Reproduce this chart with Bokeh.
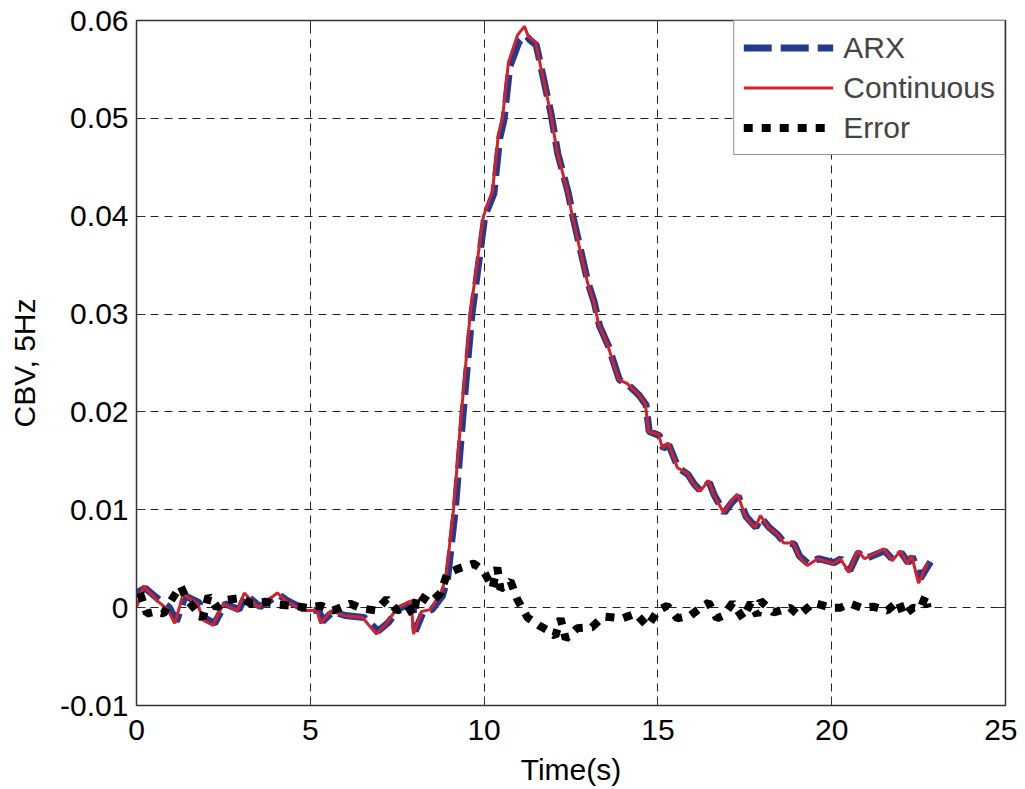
from bokeh.plotting import figure
from bokeh.models import (LinearAxis, FixedTicker, NumeralTickFormatter, Range1d, Legend, LegendItem,
                          CustomLabelingPolicy)
from bokeh.embed import file_html
from bokeh.resources import INLINE

# ---- data ----
t_cont = [0.0, 0.2, 0.6, 0.9, 1.1, 1.35, 1.75, 1.93, 2.2, 2.5, 2.9, 3.1, 3.5, 4.05, 4.3, 4.8,
          5.2, 5.3, 5.6, 5.95, 6.5, 6.9, 7.2, 7.5, 7.9, 7.97, 8.2, 8.45, 8.75, 8.9,
          9.12, 9.35, 9.6, 9.98, 10.24, 10.41, 10.53, 10.7, 10.96, 11.16, 11.28, 11.48,
          11.62, 11.91, 12.1, 12.4, 12.54, 12.97, 13.15, 13.3, 13.55, 13.87, 14.12, 14.44,
          14.64, 14.73, 15.02, 15.13, 15.3, 15.56, 15.85, 16.03, 16.22, 16.46, 16.6, 16.89,
          17.1, 17.29, 17.52, 17.8, 17.95, 18.18, 18.44, 18.62, 18.9, 19.05, 19.3, 19.6,
          20.05, 20.25, 20.5, 20.74, 20.95, 21.5, 21.74, 21.98, 22.18, 22.3, 22.5, 22.76]
continuous = [0.0, 0.0022, 0.0007, -0.0002, -0.0016, 0.0014, 0.0004, -0.0013, -0.0018, 0.0004,
              -0.0003, 0.0015, 0.0, 0.0015, 0.0007, -0.0003, -0.0003, -0.0016, -0.0003, -0.0008,
              -0.0010, -0.0027, -0.0016, 0.0, 0.0007, -0.0027, -0.0004, -0.0002, 0.0014, 0.0030,
              0.0100, 0.0200, 0.0300, 0.0400, 0.0425, 0.0483, 0.0500, 0.0557, 0.0585, 0.0594,
              0.0583, 0.0578, 0.0554, 0.0506, 0.0466, 0.0425, 0.0400, 0.0333, 0.0313, 0.0289,
              0.0269, 0.0233, 0.0229, 0.0218, 0.0208, 0.0180, 0.0177, 0.0163, 0.0168, 0.0143,
              0.0137, 0.0126, 0.0119, 0.0130, 0.0116, 0.0097, 0.0108, 0.0116, 0.0093, 0.0082,
              0.0094, 0.0082, 0.0075, 0.0066, 0.0066, 0.0053, 0.0043, 0.0050, 0.0045, 0.0050,
              0.0036, 0.0058, 0.0050, 0.0060, 0.0048, 0.0058, 0.0045, 0.0053, 0.0025, 0.0046]

t_arx = [0.0, 0.25, 0.65, 0.95, 1.15, 1.4, 1.8, 1.98, 2.25, 2.55, 2.95, 3.15, 3.55, 4.1, 4.35, 4.85,
         5.25, 5.35, 5.65, 6.0, 6.55, 6.95, 7.25, 7.55, 7.95, 8.02, 8.25, 8.5, 8.8, 8.95,
         9.17, 9.4, 9.65, 10.02, 10.28, 10.45, 10.57, 10.74, 11.0, 11.2, 11.32, 11.5,
         11.64, 11.93, 12.12, 12.42, 12.56, 12.99, 13.17, 13.32, 13.57, 13.89, 14.14, 14.46,
         14.66, 14.75, 15.04, 15.15, 15.32, 15.58, 15.87, 16.05, 16.24, 16.48, 16.62, 16.91,
         17.12, 17.31, 17.54, 17.82, 17.97, 18.2, 18.46, 18.64, 18.92, 19.07, 19.32, 19.62,
         20.07, 20.27, 20.52, 20.76, 20.97, 21.52, 21.76, 22.0, 22.2, 22.32, 22.55, 22.9]
arx = [0.0015, 0.0020, 0.0008, 0.0, -0.0014, 0.0012, 0.0005, -0.0011, -0.0016, 0.0004,
       -0.0002, 0.0013, 0.0001, 0.0013, 0.0007, -0.0002, -0.0003, -0.0014, -0.0004, -0.0008,
       -0.0010, -0.0024, -0.0015, -0.0001, 0.0005, -0.0024, -0.0004, -0.0002, 0.0012, 0.0030,
       0.0100, 0.0200, 0.0300, 0.0400, 0.0423, 0.0480, 0.0498, 0.0553, 0.0578, 0.0585,
       0.0580, 0.0575, 0.0552, 0.0504, 0.0464, 0.0424, 0.0399, 0.0332, 0.0312, 0.0288,
       0.0268, 0.0233, 0.0228, 0.0217, 0.0207, 0.0180, 0.0176, 0.0163, 0.0166, 0.0143,
       0.0136, 0.0126, 0.0119, 0.0128, 0.0115, 0.0097, 0.0107, 0.0114, 0.0093, 0.0082,
       0.0092, 0.0082, 0.0074, 0.0066, 0.0065, 0.0053, 0.0045, 0.0050, 0.0046, 0.0050,
       0.0038, 0.0056, 0.0050, 0.0058, 0.0049, 0.0056, 0.0046, 0.0052, 0.0030, 0.0050]

t_err = [0.1, 0.3, 0.55, 0.78, 0.95, 1.27, 1.45, 1.65, 1.9, 2.07, 2.3, 2.6, 3.0, 3.3, 3.7, 4.1,
         4.5, 4.9, 5.3, 5.65, 6.15, 6.5, 6.9, 7.2, 7.5, 7.8, 7.97, 8.08, 8.45, 8.75, 8.94,
         9.27, 9.7, 9.98, 10.1, 10.24, 10.38, 10.47, 10.76, 10.96, 11.25, 11.57, 11.82,
         12.05, 12.2, 12.35, 12.68, 13.1, 13.43, 13.98, 14.36, 14.7, 15.0, 15.27, 15.56,
         15.94, 16.23, 16.46, 16.7, 16.89, 17.15, 17.45, 17.67, 17.86, 17.95, 18.33, 18.8,
         19.05, 19.48, 19.96, 20.25, 20.54, 20.85, 21.2, 21.6, 21.92, 22.07, 22.35, 22.55,
         22.7, 22.76]
error = [0.0015, -0.0006, -0.0004, -0.0006, 0.0005, 0.0022, 0.0008, 0.0, -0.0011, 0.0012,
         0.0, 0.0008, 0.0010, 0.0004, 0.0006, 0.0003, 0.0002, 0.0, 0.0002, -0.0003, 0.0004,
         -0.0001, -0.0003, 0.0009, -0.0003, 0.0002, -0.0008, 0.0014, 0.0005, 0.0015, 0.0035,
         0.0040, 0.0045, 0.0038, 0.0030, 0.0020, 0.0041, 0.0019, 0.0027, 0.0008, -0.0010,
         -0.0018, -0.0023, -0.0029, -0.0011, -0.0032, -0.0021, -0.0020, -0.0009, -0.0011,
         -0.0006, -0.0019, -0.0003, 0.0002, -0.0011, -0.0008, 0.0, 0.0005, -0.0011, -0.0008,
         0.0005, -0.0011, 0.0005, -0.0008, 0.0007, -0.0005, 0.0, -0.0008, 0.0005, 0.0,
         0.0, 0.0004, 0.0, 0.0001, -0.0003, 0.0007, -0.0008, 0.0, -0.0001, 0.0012, 0.0]

x_ticks = [0, 5, 10, 15, 20, 25]
y_ticks = [-0.01, 0, 0.01, 0.02, 0.03, 0.04, 0.05, 0.06]

FONT = "Liberation Sans"
FS = "30px"

p = figure(width=1017, height=788, output_backend="svg", toolbar_location=None,
           x_range=Range1d(0, 25), y_range=Range1d(-0.01, 0.06),
           min_border_left=136, min_border_right=12, min_border_top=20, min_border_bottom=83)
p.background_fill_color = "white"
p.border_fill_color = "white"
p.outline_line_color = "#333333"
p.outline_line_width = 1.5

for ax in (p.xaxis[0], p.yaxis[0]):
    ax.major_label_text_font = FONT
    ax.major_label_text_font_size = FS
    ax.major_label_text_color = "black"
    ax.axis_label_text_font = FONT
    ax.axis_label_text_font_size = FS
    ax.axis_label_text_font_style = "normal"
    ax.axis_label_text_color = "black"
    ax.major_tick_in = 9
    ax.major_tick_out = 0
    ax.minor_tick_line_color = None
    ax.axis_line_color = "#333333"
    ax.major_tick_line_color = "#333333"

p.xaxis.ticker = FixedTicker(ticks=x_ticks)
p.yaxis.ticker = FixedTicker(ticks=y_ticks)
p.yaxis.formatter = NumeralTickFormatter(format="0.[00]")
p.xaxis.axis_label = "Time(s)"
p.yaxis.axis_label = "CBV, 5Hz"
p.xaxis.major_label_standoff = 14
p.yaxis.major_label_standoff = 8
p.xaxis.axis_label_standoff = 10
p.yaxis.axis_label_standoff = 16

no_labels = CustomLabelingPolicy(code="""
const all = [...indices];
for (const i of all) indices.unset(i);
return indices;
""")

# mirrored ticks (top and right), without labels
top = LinearAxis(ticker=FixedTicker(ticks=x_ticks), major_label_policy=no_labels,
                 major_label_text_font_size="1px", major_label_standoff=0,
                 major_tick_in=9, major_tick_out=0, minor_tick_line_color=None,
                 axis_line_color="#333333", major_tick_line_color="#333333")
right = LinearAxis(ticker=FixedTicker(ticks=y_ticks), major_label_policy=no_labels,
                   major_label_text_font_size="1px", major_label_standoff=0,
                   major_tick_in=9, major_tick_out=0, minor_tick_line_color=None,
                   axis_line_color="#333333", major_tick_line_color="#333333")
p.add_layout(top, "above")
p.add_layout(right, "right")

for g in (p.xgrid[0], p.ygrid[0]):
    g.grid_line_color = "#222222"
    g.grid_line_dash = "8 6"
    g.grid_line_width = 1

r_arx = p.line(t_arx, arx, line_color="#233a8f", line_width=7, line_dash="28 9")
r_cont = p.line(t_cont, continuous, line_color="#d3222c", line_width=3)
r_err = p.line(t_err, error, line_color="black", line_width=8, line_dash="9 9")

legend = Legend(items=[LegendItem(label="ARX", renderers=[r_arx]),
                       LegendItem(label="Continuous", renderers=[r_cont]),
                       LegendItem(label="Error", renderers=[r_err])],
                location="top_right", margin=0, padding=9, spacing=5,
                glyph_width=90, glyph_height=35, label_height=35, label_standoff=10,
                label_text_font=FONT, label_text_font_size=FS,
                border_line_color="#222222", border_line_width=1,
                background_fill_color="white", background_fill_alpha=1)
p.add_layout(legend, "center")

open("out.html", "w").write(file_html(p, INLINE))
